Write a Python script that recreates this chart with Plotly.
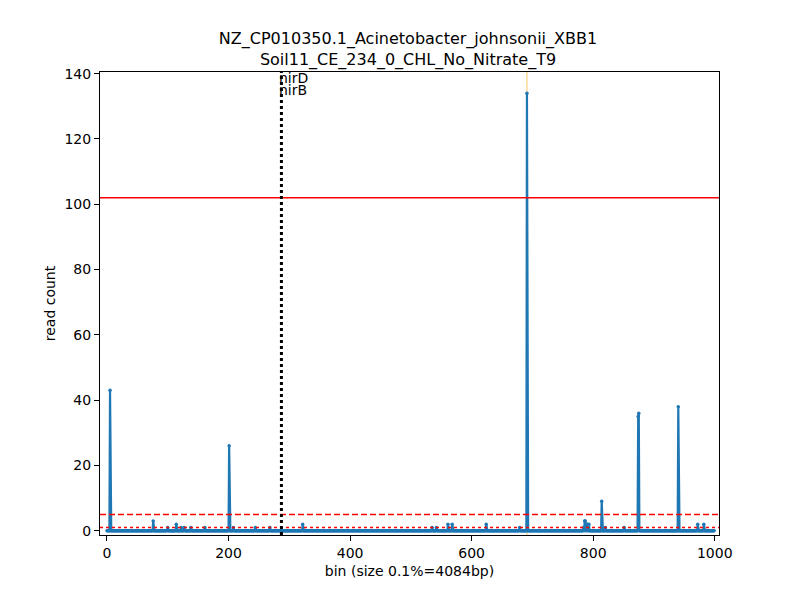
import plotly.graph_objects as go

# nonzero read counts per bin (all other bins are 0)
n_bins = 1000
peak_bins = [5, 76, 100, 114, 122, 127, 138, 161, 201, 208, 244, 268, 322,
             535, 542, 561, 568, 624, 679, 691, 784, 786, 787, 789, 791, 793,
             814, 820, 851, 874, 875, 940, 972, 982]
peak_counts = [43, 3, 1, 2, 1, 1, 1, 1, 26, 1, 1, 1, 2,
               1, 1, 2, 2, 2, 1, 134, 1, 3, 3, 2, 2, 2,
               9, 1, 1, 35, 36, 38, 2, 2]

gene_bin = 287
gene_labels = ["nirD", "nirB"]
gene_label_y = [138.8, 135.1]
max_bin = 691
upper_threshold = 102
mid_threshold = 5
low_threshold = 1

title = "NZ_CP010350.1_Acinetobacter_johnsonii_XBB1<br>Soil11_CE_234_0_CHL_No_Nitrate_T9"

bins = list(range(n_bins))
counts = [0] * n_bins
for b, c in zip(peak_bins, peak_counts):
    counts[b] = c

font = dict(family="DejaVu Sans", size=14, color="black")

fig = go.Figure()
fig.add_trace(go.Scatter(
    x=bins, y=counts, mode="lines+markers",
    line=dict(color="#1f77b4", width=2.2),
    marker=dict(color="#1f77b4", size=3.5),
    showlegend=False,
))

# orange line at the max bin, drawn under the data
fig.add_shape(type="line", x0=max_bin, x1=max_bin, y0=0, y1=1, yref="paper",
              line=dict(color="rgba(255,165,0,0.6)", width=1), layer="below")
# threshold lines
fig.add_hline(y=upper_threshold, line=dict(color="red", width=1.4))
fig.add_hline(y=mid_threshold, line=dict(color="red", width=1.4, dash="6px,3px"))
fig.add_hline(y=low_threshold, line=dict(color="red", width=1.4, dash="dot"))
# gene position
fig.add_vline(x=gene_bin, line=dict(color="black", width=3, dash="dot"))

for lab, ly in zip(gene_labels, gene_label_y):
    fig.add_annotation(x=gene_bin, y=ly, text=lab, showarrow=False,
                       xanchor="left", yanchor="middle", xshift=-4, font=font)

fig.update_layout(
    width=800, height=600,
    plot_bgcolor="white", paper_bgcolor="white",
    margin=dict(l=92, r=89, t=64, b=73),
    font=font,
    title=dict(text=title, x=0.5, xanchor="center", y=0.94, yref="container",
               yanchor="top", font=dict(family="DejaVu Sans", size=16, color="black")),
)
fig.update_xaxes(
    range=[-11.5, 1007], tickvals=[0, 200, 400, 600, 800, 1000],
    showgrid=False, zeroline=False, showline=True, linecolor="black", linewidth=1,
    mirror=True, ticks="outside", ticklen=5, tickcolor="black",
    title=dict(text="bin (size 0.1%=4084bp)", standoff=6, font=font),
)
fig.update_yaxes(
    range=[-1.3, 140.5], tickvals=[0, 20, 40, 60, 80, 100, 120, 140],
    showgrid=False, zeroline=False, showline=True, linecolor="black", linewidth=1,
    mirror=True, ticks="outside", ticklen=5, tickcolor="black",
    title=dict(text="read count", standoff=5, font=font),
)

fig.write_html("out.html")
